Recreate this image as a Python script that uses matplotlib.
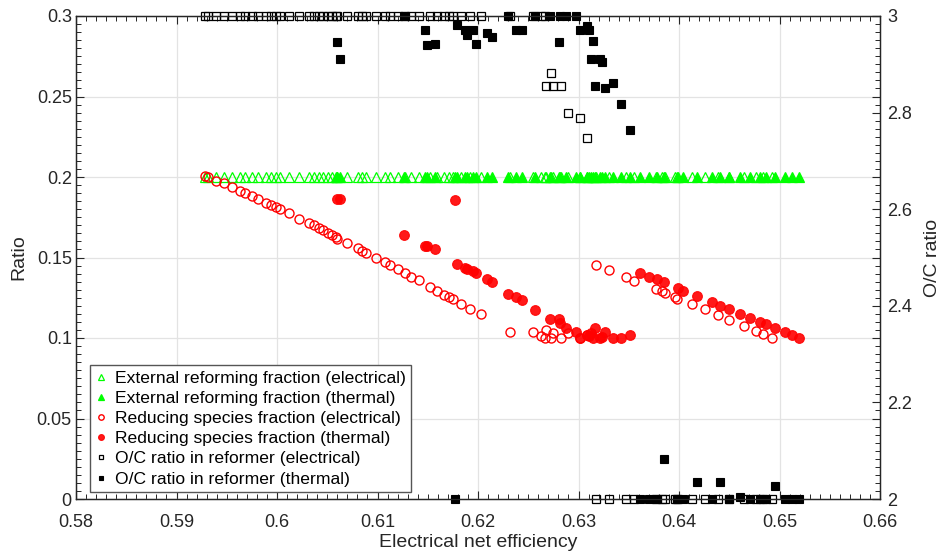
import numpy as np
import matplotlib
matplotlib.use("Agg")
import matplotlib.pyplot as plt
from matplotlib.ticker import MultipleLocator

plt.rcParams['font.family'] = ['Liberation Sans', 'DejaVu Sans']

# ---- electrical-optimised cases ----
el_x = [0.5928, 0.5931, 0.5939, 0.5947, 0.5955, 0.5963, 0.5968, 0.5975, 0.5981, 0.5989,
        0.5994, 0.5999, 0.6003, 0.6012, 0.6022, 0.6032, 0.6037, 0.6042, 0.6046, 0.6051,
        0.6055, 0.6059, 0.6060, 0.6070, 0.6081, 0.6085, 0.6089, 0.6099, 0.6107, 0.6112,
        0.6120, 0.6127, 0.6133, 0.6141, 0.6152, 0.6159, 0.6166, 0.6171, 0.6175, 0.6183,
        0.6192, 0.6203,
        0.6232, 0.6255, 0.6263, 0.6268, 0.6267, 0.6275, 0.6273, 0.6283, 0.6290, 0.6301,
        0.6308,
        0.6317, 0.6330, 0.6347, 0.6355, 0.6377, 0.6383, 0.6386, 0.6396, 0.6398, 0.6413,
        0.6426, 0.6439, 0.6450, 0.6465, 0.6477, 0.6484, 0.6493]
el_rs = [0.2006, 0.1998, 0.1977, 0.1961, 0.1936, 0.1913, 0.1899, 0.1882, 0.1861, 0.1840,
         0.1826, 0.1812, 0.1799, 0.1774, 0.1741, 0.1716, 0.1700, 0.1685, 0.1671, 0.1654,
         0.1640, 0.1625, 0.1617, 0.1590, 0.1557, 0.1542, 0.1526, 0.1499, 0.1472, 0.1451,
         0.1427, 0.1402, 0.1381, 0.1360, 0.1315, 0.1292, 0.1267, 0.1257, 0.1240, 0.1211,
         0.1178, 0.1147,
         0.1037, 0.1039, 0.1014, 0.1050, 0.0998, 0.1029, 0.0998, 0.0998, 0.1029, 0.0998,
         0.1019,
         0.1452, 0.1422, 0.1381, 0.1356, 0.1302, 0.1292, 0.1278, 0.1257, 0.1242, 0.1211,
         0.1178, 0.1143, 0.1112, 0.1075, 0.1046, 0.1025, 0.1002]
el_oc = [3.0] * 42 + [3.0, 3.0, 3.0, 2.855, 3.0, 2.855, 2.883, 2.855, 2.800, 2.788, 2.747] + [2.0] * 17
el_erf = [0.2] * len(el_x)

# ---- thermal-optimised cases ----
th_x = [0.6060, 0.6063, 0.6126, 0.6147, 0.6149, 0.6157, 0.6177, 0.6179, 0.6187, 0.6189,
        0.6195, 0.6198, 0.6209, 0.6214, 0.6230, 0.6238, 0.6244, 0.6257, 0.6272, 0.6281,
        0.6282, 0.6288, 0.6298, 0.6301, 0.6308, 0.6310, 0.6312, 0.6314, 0.6316, 0.6321,
        0.6323, 0.6326, 0.6334, 0.6342, 0.6351,
        0.6361, 0.6370, 0.6378, 0.6385, 0.6399, 0.6404, 0.6418, 0.6433, 0.6441, 0.6450,
        0.6461, 0.6471, 0.6481, 0.6487, 0.6496, 0.6505, 0.6512, 0.6519]
th_rs = [0.1861, 0.1861, 0.1640, 0.1572, 0.1574, 0.1552, 0.1857, 0.1460, 0.1437, 0.1430,
         0.1415, 0.1406, 0.1365, 0.1350, 0.1273, 0.1257, 0.1236, 0.1174, 0.1118, 0.1118,
         0.1091, 0.1060, 0.1039, 0.1000, 0.1019, 0.1010, 0.1030, 0.1000, 0.1060, 0.1000,
         0.1008, 0.1039, 0.1002, 0.1002, 0.1019,
         0.1406, 0.1381, 0.1365, 0.1346, 0.1309, 0.1292, 0.1261, 0.1226, 0.1199, 0.1180,
         0.1149, 0.1122, 0.1101, 0.1087, 0.1060, 0.1035, 0.1019, 0.1002]
th_oc = [2.946, 2.912, 3.0, 2.970, 2.940, 2.942, 2.0, 2.981, 2.972, 2.961,
         2.971, 2.943, 2.964, 2.957, 3.0, 2.970, 2.970, 3.0, 3.0, 2.947,
         3.0, 3.0, 3.0, 2.971, 2.979, 2.970, 2.912, 2.949, 2.856, 2.912,
         2.904, 2.850, 2.862, 2.818, 2.763,
         2.0, 2.0, 2.0, 2.082, 2.0, 2.0, 2.036, 2.0, 2.036, 2.0,
         2.005, 2.0, 2.0, 2.0, 2.026, 2.0, 2.0, 2.0]
th_erf = [0.2] * len(th_x)

labels = ["External reforming fraction (electrical)",
          "External reforming fraction (thermal)",
          "Reducing species fraction (electrical)",
          "Reducing species fraction (thermal)",
          "O/C ratio in reformer (electrical)",
          "O/C ratio in reformer (thermal)"]

x_ticks = [0.58, 0.59, 0.6, 0.61, 0.62, 0.63, 0.64, 0.65, 0.66]
x_ticklabels = ["0.58", "0.59", "0.6", "0.61", "0.62", "0.63", "0.64", "0.65", "0.66"]
y_ticks = [0, 0.05, 0.1, 0.15, 0.2, 0.25, 0.3]
y_ticklabels = ["0", "0.05", "0.1", "0.15", "0.2", "0.25", "0.3"]
y2_ticks = [2, 2.2, 2.4, 2.6, 2.8, 3]
y2_ticklabels = ["2", "2.2", "2.4", "2.6", "2.8", "3"]

fig = plt.figure(figsize=(9.43, 5.57), dpi=100)
ax = fig.add_axes([76 / 943, 1 - 499 / 557, 804 / 943, 483 / 557])
ax2 = ax.twinx()

GREEN = "#00ff00"
RED = "#ff0000"

h1, = ax.plot(el_x, el_erf, ls="none", marker="^", ms=7, mfc="none", mec=GREEN, mew=0.9, clip_on=False)
h2, = ax.plot(th_x, th_erf, ls="none", marker="^", ms=7, mfc=GREEN, mec=GREEN, mew=0.9, clip_on=False)
h3, = ax.plot(el_x, el_rs, ls="none", marker="o", ms=6.5, mfc="none", mec=RED, mew=1.0, clip_on=False)
h4, = ax.plot(th_x, th_rs, ls="none", marker="o", ms=7, mfc=RED, mec=RED, mew=0.8, alpha=0.9, clip_on=False)
h5, = ax2.plot(el_x, el_oc, ls="none", marker="s", ms=5.5, mfc="none", mec="black", mew=0.9, clip_on=False)
h6, = ax2.plot(th_x, th_oc, ls="none", marker="s", ms=5.8, mfc="black", mec="black", mew=0.8, clip_on=False)

ax.set_xlim(0.58, 0.66)
ax.set_ylim(0, 0.3)
ax2.set_ylim(2, 3)

ax.set_xticks(x_ticks)
ax.set_xticklabels(x_ticklabels)
ax.set_yticks(y_ticks)
ax.set_yticklabels(y_ticklabels)
ax2.set_yticks(y2_ticks)
ax2.set_yticklabels(y2_ticklabels)
ax.xaxis.set_minor_locator(MultipleLocator(0.001))
ax.yaxis.set_minor_locator(MultipleLocator(0.005))

ax.grid(True, which="major", color="#e3e3e3", lw=0.9)
ax.set_axisbelow(True)

tick_col = "#262626"
ax.tick_params(which="both", direction="in", top=True, right=True, colors=tick_col,
               labelsize=13, labelcolor=tick_col)
ax.tick_params(which="major", length=6, width=0.8)
ax.tick_params(which="minor", length=3.5, width=0.7)
ax.tick_params(axis="x", pad=11)
ax.tick_params(axis="y", pad=3)
ax2.tick_params(which="major", direction="in", length=6, width=0.8, colors=tick_col,
                labelsize=13, labelcolor=tick_col, pad=5)
for a in (ax, ax2):
    for s in a.spines.values():
        s.set_color(tick_col)
        s.set_linewidth(0.9)

ax.set_xlabel("Electrical net efficiency", fontsize=14, color=tick_col, labelpad=2)
ax.set_ylabel("Ratio", fontsize=14, color=tick_col, labelpad=7)
ax2.set_ylabel("O/C ratio", fontsize=14, color=tick_col, labelpad=9)

leg = ax2.legend([h1, h2, h3, h4, h5, h6], labels, loc="lower left",
                 bbox_to_anchor=(0.017, 0.014), borderaxespad=0, fontsize=12.6,
                 markerscale=0.6, handlelength=0.6, handletextpad=0.5,
                 labelspacing=0.28, borderpad=0.32, frameon=True, fancybox=False,
                 framealpha=1.0)
leg.get_frame().set_edgecolor("#555555")
leg.get_frame().set_linewidth(1.0)

fig.savefig("out.png", dpi=100)
